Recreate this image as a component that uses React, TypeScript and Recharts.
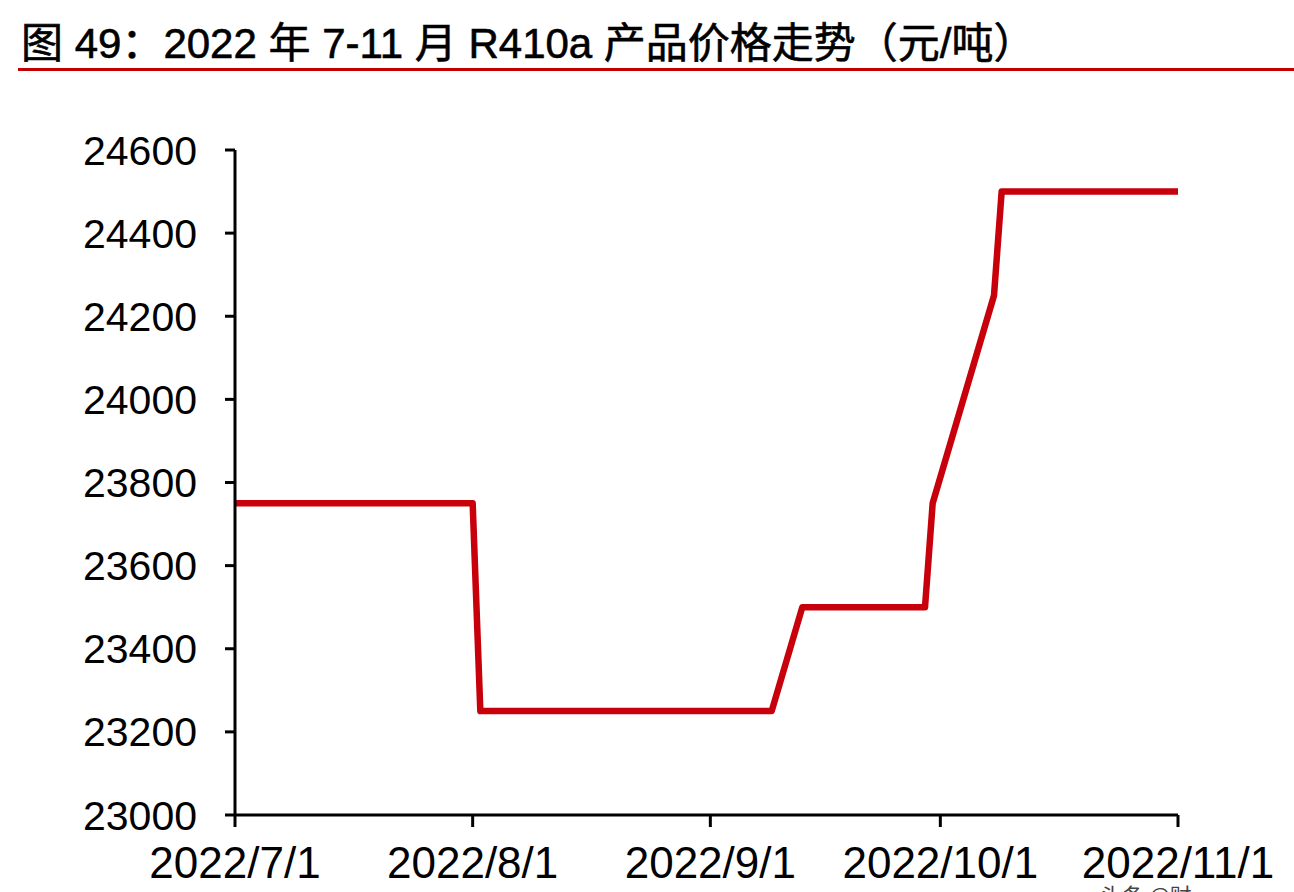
import { LineChart, Line, XAxis, YAxis } from 'recharts';

// R410a price, yuan/ton (points where the price changes)
const dates = [
  '2022-07-01', '2022-08-01', '2022-08-02', '2022-09-09', '2022-09-13',
  '2022-09-29', '2022-09-30', '2022-10-08', '2022-10-09', '2022-11-01',
];
const prices = [23750, 23750, 23250, 23250, 23500, 23500, 23750, 24250, 24500, 24500];

const xTickDates = ['2022-07-01', '2022-08-01', '2022-09-01', '2022-10-01', '2022-11-01'];
const yTicks = [23000, 23200, 23400, 23600, 23800, 24000, 24200, 24400, 24600];

const title = '图 49：2022 年 7-11 月 R410a 产品价格走势（元/吨）';
const watermark = '头条 @财';

const toTs = (d: string) => new Date(d + 'T00:00:00Z').getTime();

const data = dates.map((d, i) => ({ t: toTs(d), price: prices[i] }));
const xTicks = xTickDates.map(toTs);

const fmtDate = (v: number) => {
  const d = new Date(v);
  return `${d.getUTCFullYear()}/${d.getUTCMonth() + 1}/${d.getUTCDate()}`;
};

const FONT = '"Liberation Sans", Arial, "Noto Sans CJK SC", sans-serif';

export default function App() {
  return (
    <div
      style={{
        position: 'absolute',
        left: 0,
        top: 0,
        width: 1294,
        height: 892,
        overflow: 'hidden',
        background: '#fff',
        fontFamily: FONT,
      }}
    >
      {/* title + red rule */}
      <div
        style={{
          position: 'absolute',
          left: 21,
          top: 23,
          fontSize: 42,
          lineHeight: '42px',
          color: '#000',
          whiteSpace: 'nowrap',
          WebkitTextStroke: '0.6px #000',
        }}
      >
        {title}
      </div>
      <div
        style={{ position: 'absolute', left: 18, top: 68, width: 1276, height: 3, background: '#c00000' }}
      />

      <div style={{ position: 'absolute', left: 0, top: 0 }}>
        <LineChart width={1294} height={892} data={data} margin={{ top: 150, right: 116, bottom: 0, left: 0 }}>
          <XAxis
            dataKey="t"
            type="number"
            scale="time"
            domain={[xTicks[0], xTicks[xTicks.length - 1]]}
            ticks={xTicks}
            tickFormatter={fmtDate}
            height={77}
            axisLine={{ stroke: '#000', strokeWidth: 3 }}
            tickLine={{ stroke: '#000', strokeWidth: 3 }}
            tickSize={12}
            tickMargin={20}
            tick={{ fill: '#000', fontSize: 44, fontFamily: FONT }}
            interval={0}
            allowDataOverflow
          />
          <YAxis
            type="number"
            domain={[23000, 24600]}
            ticks={yTicks}
            width={235}
            axisLine={{ stroke: '#000', strokeWidth: 3 }}
            tickLine={{ stroke: '#000', strokeWidth: 3 }}
            tickSize={10}
            tickMargin={28}
            tick={{ fill: '#000', fontSize: 41, fontFamily: FONT }}
            interval={0}
          />
          <Line
            type="linear"
            dataKey="price"
            stroke="#c8000c"
            strokeWidth={6.5}
            strokeLinejoin="round"
            strokeLinecap="round"
            dot={false}
            activeDot={false}
            isAnimationActive={false}
          />
        </LineChart>
      </div>

      <div
        style={{
          position: 'absolute',
          left: 1100,
          top: 883,
          fontSize: 22,
          lineHeight: '22px',
          color: '#444',
          whiteSpace: 'nowrap',
          fontFamily: '"Noto Sans CJK SC", sans-serif',
        }}
      >
        {watermark}
      </div>
    </div>
  );
}
